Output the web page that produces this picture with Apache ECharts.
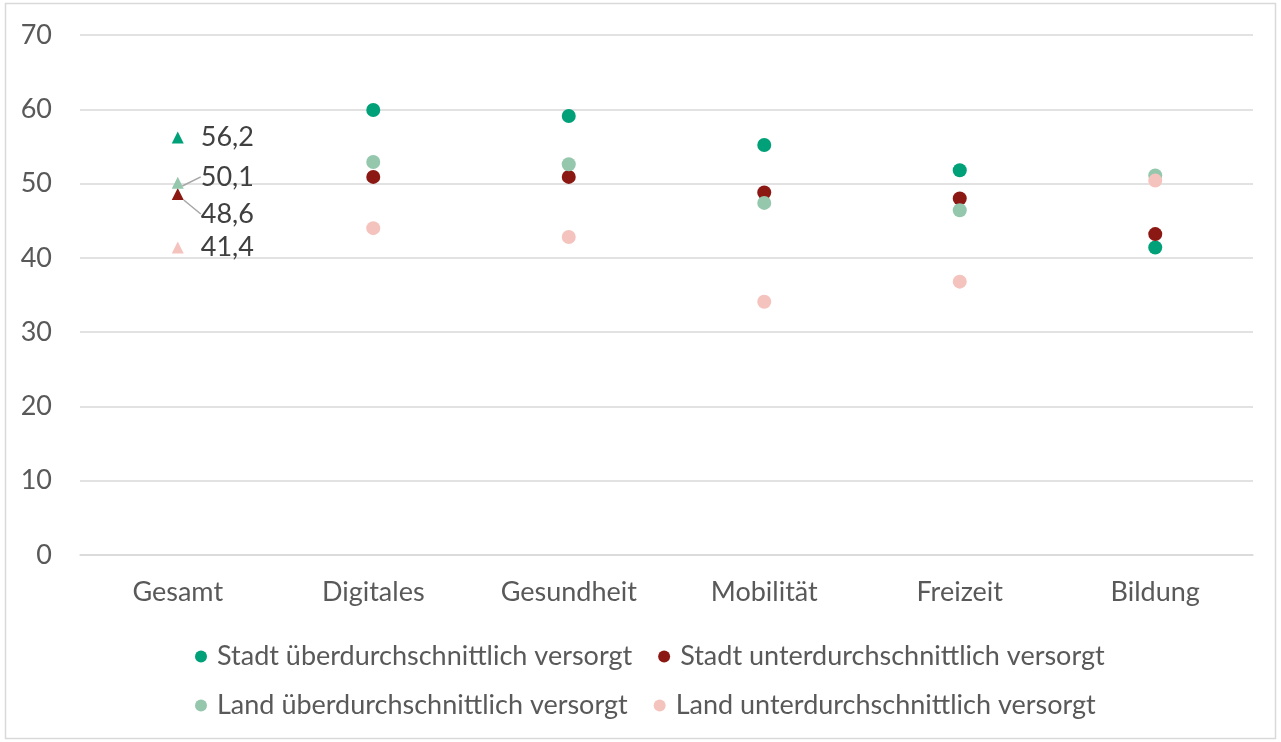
<!DOCTYPE html>
<html>
<head>
<meta charset="utf-8">
<script src="https://cdn.jsdelivr.net/npm/echarts@6/dist/echarts.min.js"></script>
<style>
  html, body { margin: 0; padding: 0; background: #fff; }
  #chart { width: 1281px; height: 742px; }
</style>
</head>
<body>
<div id="chart"></div>
<script>
// categories and values
const categories = ['Gesamt', 'Digitales', 'Gesundheit', 'Mobilität', 'Freizeit', 'Bildung']
const seriesNames = [
  'Stadt überdurchschnittlich versorgt',
  'Stadt unterdurchschnittlich versorgt',
  'Land überdurchschnittlich versorgt',
  'Land unterdurchschnittlich versorgt',
]
const stadtUeber = [56.2, 59.9, 59.1, 55.2, 51.8, 41.4]
const stadtUnter = [48.6, 50.9, 50.9, 48.8, 48.0, 43.2]
const landUeber = [50.1, 52.9, 52.6, 47.4, 46.4, 51.1]
const landUnter = [41.4, 44.0, 42.8, 34.1, 36.8, 50.4]
const yTicks = [0, 10, 20, 30, 40, 50, 60, 70]

const colors = ['#00a078', '#8b1812', '#95c7ad', '#f5c3bd']
// label nudges for the Gesamt values (only the two close ones move)
const labelShift = [0, 20, -6, 0]

const FONT = 'Lato'
const chart = echarts.init(document.getElementById('chart'))

function makeSeries(values, idx) {
  return {
    name: seriesNames[idx],
    type: 'scatter',
    symbolSize: 14,
    itemStyle: { color: colors[idx], opacity: 1 },
    z: 2 + idx,
    labelLayout: (p) => (p.dataIndex === 0 && labelShift[idx] ? { dy: labelShift[idx] } : {}),
    labelLine: { show: labelShift[idx] !== 0, lineStyle: { color: '#a6a6a6', width: 1.5 } },
    data: values.map((v, i) => {
      if (i !== 0) return v
      return {
        value: v,
        symbol: 'triangle',
        symbolSize: 12,
        label: {
          show: true,
          position: 'right',
          distance: 17,
          formatter: (p) => p.value.toFixed(1).replace('.', ','),
          color: '#404040',
          fontSize: 27,
          fontFamily: FONT,
        },
      }
    }),
  }
}

const legendBase = {
  left: 190,
  icon: 'circle', itemWidth: 12, itemHeight: 12, itemGap: 26,
  textStyle: { fontSize: 27, color: '#595959', fontFamily: FONT, padding: [0, 0, 0, 5] },
}

const option = {
  animation: false,
  textStyle: { fontFamily: FONT },
  graphic: [{
    type: 'rect',
    shape: { x: 5.5, y: 3.5, width: 1270, height: 735 },
    style: { fill: 'none', stroke: '#d9d9d9', lineWidth: 1.5 },
    silent: true,
  }],
  grid: { left: 80, right: 28, top: 35, bottom: 187, containLabel: false },
  legend: [
    Object.assign({ data: seriesNames.slice(0, 2), top: 638 }, legendBase),
    Object.assign({ data: seriesNames.slice(2, 4), top: 687 }, legendBase),
  ],
  xAxis: {
    type: 'category',
    data: categories,
    axisLine: { show: true, lineStyle: { color: '#d9d9d9', width: 1.5 } },
    axisTick: { show: false },
    axisLabel: { color: '#595959', fontSize: 27, margin: 24 },
  },
  yAxis: {
    type: 'value',
    min: yTicks[0],
    max: yTicks[yTicks.length - 1],
    interval: 10,
    axisLine: { show: false },
    axisTick: { show: false },
    axisLabel: { color: '#595959', fontSize: 27, margin: 28 },
    splitLine: { lineStyle: { color: '#d9d9d9', width: 1.5 } },
  },
  series: [
    makeSeries(stadtUeber, 0),
    makeSeries(stadtUnter, 1),
    makeSeries(landUeber, 2),
    makeSeries(landUnter, 3),
  ],
}

chart.setOption(option)
</script>
</body>
</html>
